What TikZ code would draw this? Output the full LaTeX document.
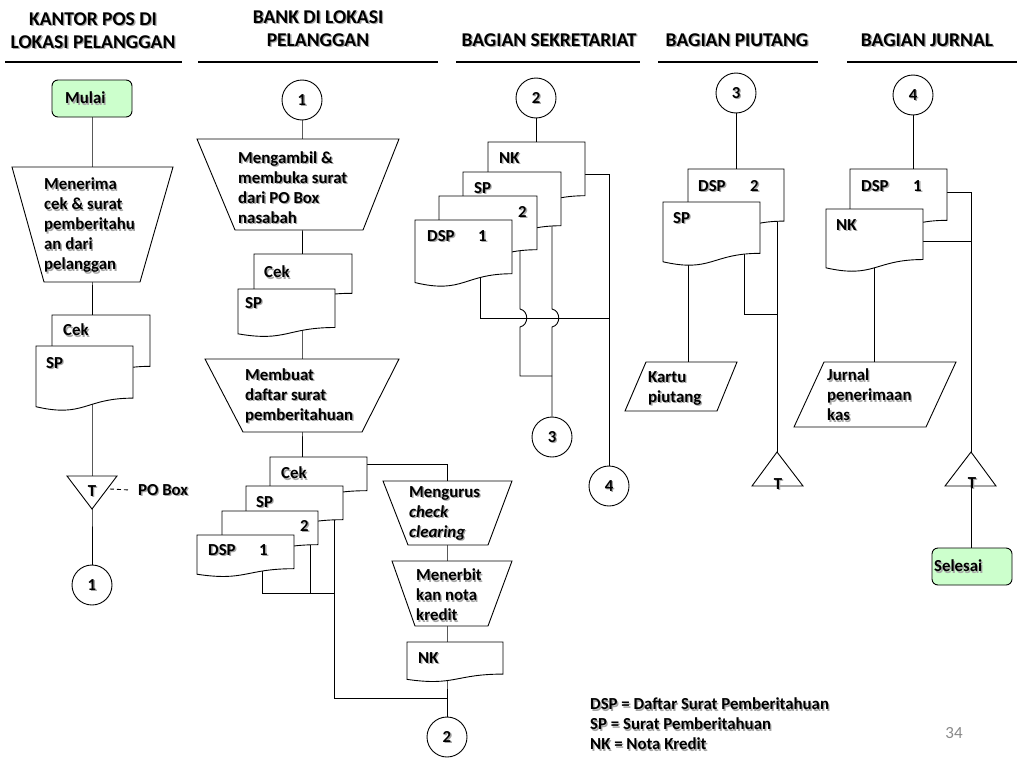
\documentclass[tikz,border=0pt]{standalone}
\usepackage{fontspec}
\setmainfont{Carlito}
\usetikzlibrary{calc}
\pgfdeclarelayer{background}
\pgfsetlayers{background,main}
\definecolor{startgreen}{RGB}{204,255,204}
\definecolor{pagegray}{RGB}{137,137,137}
\definecolor{shadowgray}{RGB}{165,165,165}
% document symbol: name, left x, top y, width, height
\newcommand\docu[5]{%
  \draw[shp] (#2,#3) -- ({#2+#4},#3) -- ({#2+#4},{#3+0.802*#5})
    .. controls ({#2+0.5*#4},{#3+0.802*#5}) and ({#2+0.5*#4},{#3+1.1075*#5}) .. (#2,{#3+0.934*#5}) -- cycle;
  \coordinate (#1) at ({#2+0.5*#4},{#3+0.5*#5});}
% quadrilateral: name, top-left x, top-right x, top y, bottom-left x, bottom-right x, bottom y, connector x
\newcommand\quadnode[8]{%
  \draw[shp] (#2,#4) -- (#3,#4) -- (#6,#7) -- (#5,#7) -- cycle;
  \coordinate (#1) at (#8,{(#4+#7)/2});}
% text with a soft shadow: options, name, position, text
\newcommand\stxt[4][]{%
  \node[#1, text=shadowgray] at ($(#3)+(1.3,1.3)$) {#4};
  \node[#1] (#2) at (#3) {#4};}
\begin{document}
\begin{tikzpicture}[x=1pt,y=-1pt,
  body/.style={font=\bfseries\fontsize{16.8}{20}\selectfont},
  lbl/.style={body, anchor=west, align=left, inner sep=0pt},
  ctr/.style={body, inner sep=0pt},
  hdr/.style={font=\bfseries\fontsize{19.5}{23}\selectfont, align=center, inner sep=0pt},
  shp/.style={draw, fill=white, line width=0.9pt, line join=miter},
  conn/.style={circle, draw, fill=white, line width=0.9pt, minimum size=40pt, inner sep=0pt},
  term/.style={rectangle, rounded corners=6pt, draw, fill=startgreen, line width=0.9pt, minimum width=80pt, minimum height=37pt},
  line/.style={line width=0.9pt},
  rulel/.style={line width=2pt}]
\useasboundingbox (0,0) rectangle (1024,768);
\begin{pgfonlayer}{background}
  \fill[white] (0,0) rectangle (1024,768);
\end{pgfonlayer}

% ---------- headers ----------
\stxt[hdr]{h1}{93,30.5}{KANTOR POS DI\\LOKASI PELANGGAN}
\stxt[hdr]{h2}{318,28.5}{BANK DI LOKASI\\PELANGGAN}
\stxt[hdr]{h3}{549,40}{BAGIAN SEKRETARIAT}
\stxt[hdr]{h4}{737,40}{BAGIAN PIUTANG}
\stxt[hdr]{h5}{927,40}{BAGIAN JURNAL}
\draw[rulel] (5,62) -- (182,62);
\draw[rulel] (198,62) -- (438,62);
\draw[rulel] (456,62) -- (640,62);
\draw[rulel] (658,62) -- (818,62);
\draw[rulel] (847,62) -- (1017,62);

% ---------- column 1 ----------
\node[term] (mulai) at (92,98.5) {};
\stxt[lbl]{mulaitxt}{65,98}{Mulai}
\quadnode{t1}{12}{173}{167}{44}{140}{282}{92}
\stxt[lbl]{t1txt}{44,225.5}{Menerima\\cek \& surat\\pemberitahu\\an dari\\pelanggan}
\docu{cek1}{52}{315}{98}{64}
\stxt[lbl]{cek1txt}{63,330}{Cek}
\docu{sp1}{36}{346}{97}{65}
\stxt[lbl]{sp1txt}{46,363}{SP}
\draw[shp] (67,476) -- (117,476) -- (92,509) -- cycle;
\coordinate (tri1) at (92,489);
\stxt[ctr]{tri1txt}{92,491}{T}
\stxt[lbl]{pobox}{138,490}{PO Box}
\node[conn] (c1) at (92,585) {};
\stxt[ctr]{c1txt}{92,585}{1}

% ---------- column 2 ----------
\node[conn] (c1b) at (302,100) {};
\stxt[ctr]{c1btxt}{302,100}{1}
\quadnode{t2a}{197}{399}{139}{235}{363}{230}{302}
\stxt[lbl]{t2atxt}{238,187.5}{Mengambil \&\\membuka surat\\dari PO Box\\nasabah}
\docu{cek2}{254}{254}{98}{49}
\stxt[lbl]{cek2txt}{264,272}{Cek}
\docu{sp2}{238}{289}{97}{48}
\stxt[lbl]{sp2txt}{245,303}{SP}
\quadnode{t2b}{205}{399}{359}{243}{362}{432}{302}
\stxt[lbl]{t2btxt}{245,396}{Membuat\\daftar surat\\pemberitahuan}
\docu{cekS}{270}{457}{97}{42}
\stxt[lbl]{cekStxt}{281,473}{Cek}
\docu{spS}{246}{486}{97}{42}
\stxt[lbl]{spStxt}{256,502}{SP}
\docu{twoS}{222}{511}{96}{42}
\stxt[lbl]{twoStxt}{300,526}{2}
\docu{dspS}{197}{535}{97}{42}
\stxt[lbl]{dspStxt}{208,550}{DSP}
\stxt[lbl]{dspSnum}{259,550}{1}
\quadnode{meng}{383}{512}{481}{408}{488}{545}{447}
\stxt[lbl]{mengtxt}{409,513}{Mengurus\\\textit{check}\\\textit{clearing}}
\quadnode{menb}{392}{512}{561}{415}{488}{626}{447}
\stxt[lbl]{menbtxt}{416,595}{Menerbit\\kan nota\\kredit}
\docu{nk2}{407}{642}{96}{40}
\stxt[lbl]{nk2txt}{418,658}{NK}
\node[conn] (c2b) at (447,737) {};
\stxt[ctr]{c2btxt}{447,737}{2}
\coordinate (cekSr) at (367,464);
\coordinate (dspSb) at (262,560);
\coordinate (twoSb) at (310,530);
\coordinate (spSb) at (334,505);
\coordinate (j1) at (334,593);
\coordinate (j2) at (334,698);

% ---------- column 3 ----------
\node[conn] (c2t) at (536,98) {};
\stxt[ctr]{c2ttxt}{536,98}{2}
\docu{nk3}{488}{142}{97}{67}
\stxt[lbl]{nk3txt}{499,158}{NK}
\docu{sp3}{463}{172}{98}{67}
\stxt[lbl]{sp3txt}{474,188}{SP}
\docu{two3}{439}{196}{98}{67}
\stxt[lbl]{two3txt}{518,212}{2}
\docu{dsp3}{415}{220}{97}{67}
\stxt[lbl]{dsp3txt}{427,236}{DSP}
\stxt[lbl]{dsp3num}{478,236}{1}
\node[conn] (c3b) at (552,437) {};
\stxt[ctr]{c3btxt}{552,437}{3}
\node[conn] (c4b) at (609,486) {};
\stxt[ctr]{c4btxt}{609,486}{4}
\coordinate (nk3r) at (585,174);
\coordinate (dsp3b) at (480,260);
\coordinate (two3b) at (520,240);
\coordinate (sp3b) at (552,215);
\coordinate (j3) at (609,318);
\coordinate (j4) at (552,376);

% ---------- column 4 ----------
\node[conn] (c3t) at (736,93) {};
\stxt[ctr]{c3ttxt}{736,93}{3}
\docu{dsp4}{688}{169}{96}{65}
\stxt[lbl]{dsp4txt}{698,186}{DSP}
\stxt[lbl]{dsp4num}{750,186}{2}
\docu{sp4}{663}{202}{97}{64}
\stxt[lbl]{sp4txt}{673,218}{SP}
\quadnode{kartu}{646}{737}{362}{625}{717}{411}{688}
\stxt[lbl]{kartutxt}{648,388}{Kartu\\piutang}
\draw[shp] (777,452) -- (803,486) -- (752,486) -- cycle;
\coordinate (tri4) at (777,475);
\stxt[ctr]{tri4txt}{778,484}{T}
\coordinate (dsp4b) at (777,200);
\coordinate (sp4b) at (744,240);
\coordinate (sp4c) at (688,240);
\coordinate (j5) at (777,314);

% ---------- column 5 ----------
\node[conn] (c4t) at (913,95) {};
\stxt[ctr]{c4ttxt}{913,95}{4}
\docu{dsp5}{850}{169}{97}{64}
\stxt[lbl]{dsp5txt}{861,186}{DSP}
\stxt[lbl]{dsp5num}{913,186}{1}
\docu{nk5}{826}{209}{97}{63}
\stxt[lbl]{nk5txt}{836,225}{NK}
\quadnode{jurnal}{824}{956}{362}{794}{926}{427}{874}
\stxt[lbl]{jurnaltxt}{827,395}{Jurnal\\penerimaan\\kas}
\draw[shp] (971,452) -- (996,486) -- (945,486) -- cycle;
\coordinate (tri5) at (971,475);
\stxt[ctr]{tri5txt}{972,483}{T}
\node[term] (selesai) at (972,566.5) {};
\stxt[lbl]{selesaitxt}{934,566}{Selesai}
\coordinate (dsp5r) at (947,192);
\coordinate (nk5r) at (923,241);
\coordinate (nk5b) at (874,240);

% ---------- legend ----------
\stxt[lbl]{legend}{590,724}{DSP = Daftar Surat Pemberitahuan\\SP = Surat Pemberitahuan\\NK = Nota Kredit}
\node[font=\fontsize{17}{20}\selectfont, text=pagegray, inner sep=0pt] (pageno) at (954,733) {34};

% ---------- connectors ----------
\begin{pgfonlayer}{background}
  % column 1
  \draw[line] (mulai) -- (t1) -- (t1 |- cek1);
  \draw[line] (t1 |- sp1) -- (tri1) -- (c1);
  \draw[line, dash pattern=on 4pt off 3pt] ([xshift=18pt]tri1) -- ([xshift=-8pt]pobox.west);
  % column 2
  \draw[line] (c1b) -- (t2a) -- (t2a |- cek2);
  \draw[line] (t2a |- sp2) -- (t2b) -- (t2b |- cekS);
  \draw[line] (cekSr) -| (meng) -- (menb) -- (menb |- nk2) -- (c2b);
  \draw[line] (dspSb) |- (j1);
  \draw[line] (twoSb) -- (twoSb |- j1);
  \draw[line] (spSb) -- (j2) -| (c2b);
  % column 3
  \draw[line] (c2t) -- (c2t |- nk3);
  \draw[line] (nk3r) -| (c4b);
  \draw[line] (dsp3b) |- (j3);
  \draw[line] (two3b) -- (520,309) .. controls +(9,2) and +(9,-2) .. (520,327) |- (j4);
  \draw[line] (sp3b) -- (552,309) .. controls +(9,2) and +(9,-2) .. (552,327) -- (c3b);
  % column 4
  \draw[line] (c3t) -- (c3t |- dsp4);
  \draw[line] (dsp4b) -- (tri4);
  \draw[line] (sp4b) |- (j5);
  \draw[line] (sp4c) -- (sp4c |- kartu);
  % column 5
  \draw[line] (c4t) -- (c4t |- dsp5);
  \draw[line] (dsp5r) -| (tri5);
  \draw[line] (nk5r) -- (nk5r -| tri5);
  \draw[line] (nk5b) -- (nk5b |- jurnal);
  \draw[line] (tri5) -- (tri5 |- selesai);
\end{pgfonlayer}
\end{tikzpicture}
\end{document}
